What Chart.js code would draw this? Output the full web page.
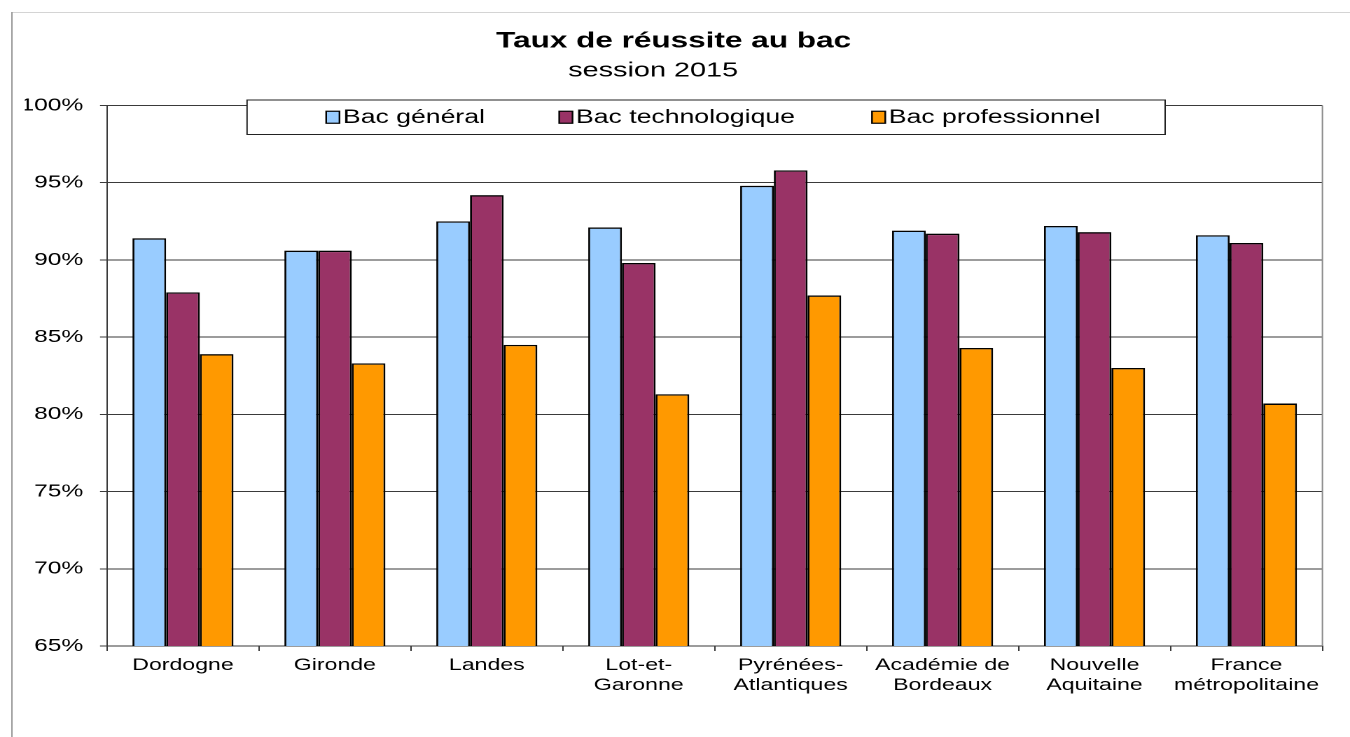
<!DOCTYPE html>
<html><head><meta charset="utf-8">
<script src="https://cdn.jsdelivr.net/npm/chart.js@4.4.1/dist/chart.umd.min.js"></script>
<style>html,body{margin:0;padding:0;background:#fff;overflow:hidden}canvas{display:block}</style>
</head><body>
<canvas id="c" width="964" height="737" style="width:1350px;height:737px"></canvas>
<script>
const categories = [['Dordogne'],['Gironde'],['Landes'],['Lot-et-','Garonne'],['Pyrénées-','Atlantiques'],['Académie de','Bordeaux'],['Nouvelle','Aquitaine'],['France','métropolitaine']];
const seriesNames = ['Bac général','Bac technologique','Bac professionnel'];
const bacGeneral = [91.4, 90.6, 92.5, 92.1, 94.8, 91.9, 92.2, 91.6];
const bacTechno  = [87.9, 90.6, 94.2, 89.8, 95.8, 91.7, 91.8, 91.1];
const bacPro     = [83.9, 83.3, 84.5, 81.3, 87.7, 84.3, 83.0, 80.7];
const yTicks = [65, 70, 75, 80, 85, 90, 95, 100];
const titleText = 'Taux de réussite au bac';
const subtitleText = 'session 2015';
const seriesColors = ['#99CCFF', '#993366', '#FF9900'];

const FONT = "'Liberation Sans', Arial, sans-serif";
Chart.defaults.font.family = FONT;
Chart.defaults.color = '#000';

const framePlugin = {
  id: 'frame',
  beforeDraw(chart) {
    const ctx = chart.ctx;
    ctx.save();
    ctx.fillStyle = '#fff';
    ctx.fillRect(0, 0, chart.width, chart.height);
    ctx.strokeStyle = '#d4d4d4';
    ctx.lineWidth = 1;
    ctx.beginPath();
    ctx.moveTo(8.5, 12.5); ctx.lineTo(chart.width, 12.5);
    ctx.stroke();
    ctx.strokeStyle = '#9a9a9a';
    ctx.beginPath();
    ctx.moveTo(8.5, 12); ctx.lineTo(8.5, chart.height);
    ctx.stroke();
    ctx.restore();
  },
  afterDatasetsDraw(chart) {
    const ctx = chart.ctx, a = chart.chartArea;
    ctx.save();
    ctx.strokeStyle = '#8a8a8a';
    ctx.lineWidth = 1;
    ctx.beginPath();
    ctx.moveTo(a.right, a.top); ctx.lineTo(a.right, a.bottom);
    ctx.stroke();
    ctx.restore();
  }
};

// subtitle drawn slightly left of the title centre, as in the reference
const subtitlePlugin = {
  id: 'subtitleText',
  afterDraw(chart) {
    const ctx = chart.ctx;
    ctx.save();
    ctx.font = '20.6px ' + FONT;
    ctx.fillStyle = '#000';
    ctx.textAlign = 'center';
    ctx.textBaseline = 'middle';
    ctx.fillText(subtitleText, 466.4, 70.8);
    ctx.restore();
  }
};

const legendPlugin = {
  id: 'boxLegend',
  afterDraw(chart) {
    const ctx = chart.ctx, a = chart.chartArea;
    const left = a.left + 100, top = a.top - 5.5, w = 655.6, h = 34.5;
    ctx.save();
    ctx.fillStyle = '#fff';
    ctx.fillRect(left, top, w, h);
    ctx.strokeStyle = '#222';
    ctx.lineWidth = 1;
    ctx.strokeRect(left, top, w, h);
    ctx.font = '19px ' + FONT;
    ctx.textBaseline = 'middle';
    const cy = top + h / 2;
    let x = left + 56.5;
    const gaps = [53, 55];
    chart.data.datasets.forEach((ds, i) => {
      ctx.fillStyle = ds.backgroundColor;
      ctx.fillRect(x, cy - 6, 9.5, 12);
      ctx.strokeStyle = '#000';
      ctx.lineWidth = 1.2;
      ctx.strokeRect(x, cy - 6, 9.5, 12);
      ctx.fillStyle = '#000';
      ctx.fillText(ds.label, x + 12, cy + 0.5);
      x += 12 + ctx.measureText(ds.label).width + (gaps[i] || 53);
    });
    ctx.restore();
  }
};

const seriesData = [bacGeneral, bacTechno, bacPro];
new Chart(document.getElementById('c'), {
  type: 'bar',
  data: {
    labels: categories,
    datasets: seriesNames.map((n, i) => ({
      label: n,
      data: seriesData[i],
      backgroundColor: seriesColors[i],
      borderColor: '#000',
      borderWidth: 1.4,
      categoryPercentage: 0.665,
      barPercentage: 1.0
    }))
  },
  options: {
    responsive: false,
    devicePixelRatio: 2,
    animation: false,
    layout: { padding: { left: 17.7, right: 19.7, top: 0, bottom: 0 } },
    plugins: {
      legend: { display: false },
      tooltip: { enabled: false },
      title: {
        display: true, text: titleText, color: '#000',
        font: { size: 22.5, weight: 'bold', family: FONT, lineHeight: 1.2 },
        padding: { top: 27.8, bottom: 50.7 }
      },
      subtitle: { display: false }
    },
    scales: {
      x: {
        offset: true,
        grid: { display: true, drawOnChartArea: false, drawTicks: true, tickLength: 5, color: '#3a3a3a', offset: true },
        border: { display: true, color: '#3a3a3a', width: 1 },
        ticks: { color: '#000', font: { size: 16.5, family: FONT, lineHeight: 1.24 }, padding: 4, maxRotation: 0, autoSkip: false },
        afterFit(scale) { scale.height = 91; }
      },
      y: {
        min: 65, max: 100,
        afterBuildTicks(scale) { scale.ticks = yTicks.map(v => ({ value: v })); },
        grid: { color: '#3a3a3a', lineWidth: 1, drawTicks: true, tickLength: 5 },
        border: { display: true, color: '#3a3a3a', width: 1 },
        ticks: { color: '#000', font: { size: 17.5, family: FONT }, padding: 12, callback: v => v + '%' },
        afterFit(scale) { scale.width = 58.7; }
      }
    }
  },
  plugins: [framePlugin, subtitlePlugin, legendPlugin]
});
</script>
</body></html>
